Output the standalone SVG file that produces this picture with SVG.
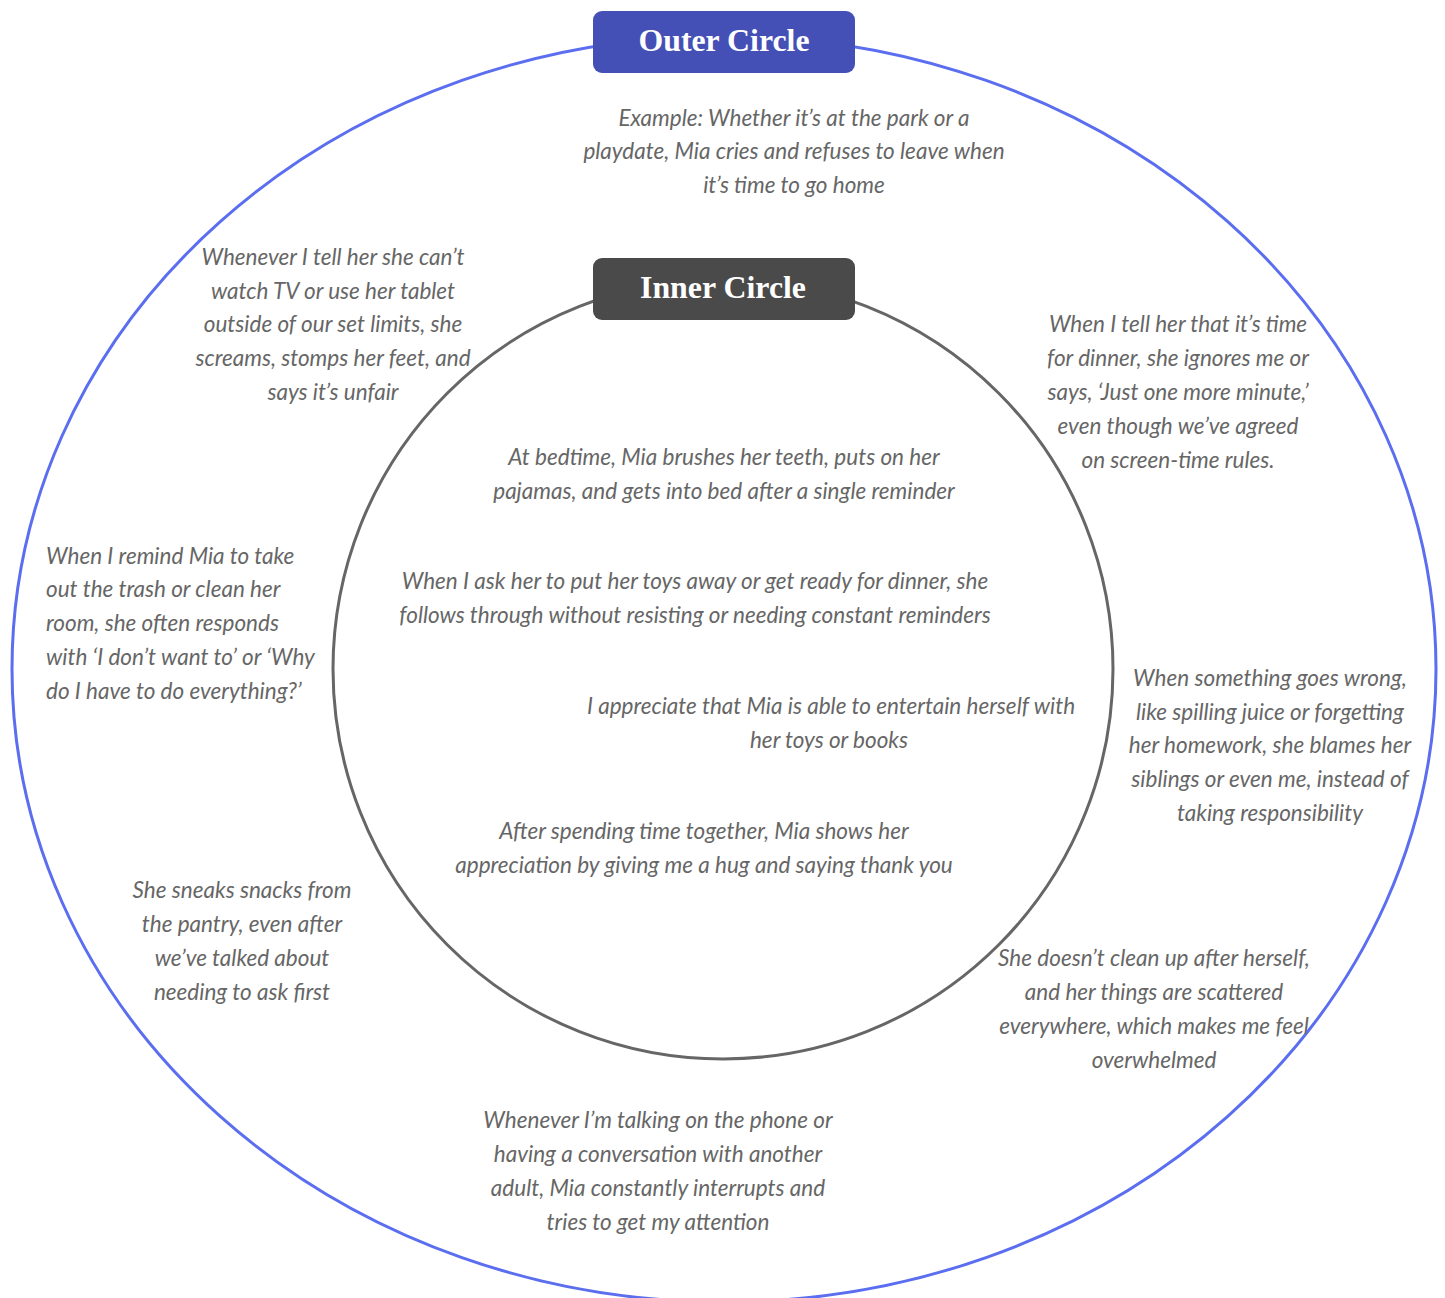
<svg xmlns="http://www.w3.org/2000/svg" width="1445" height="1298" viewBox="0 0 1445 1298">
<style>
.note{font-family:Lato,"Noto Sans","Liberation Sans",sans-serif;font-style:italic;font-size:22.5px;fill:#666666;text-anchor:middle}
.left{text-anchor:start}
.title{font-family:"Liberation Serif","DejaVu Serif",serif;font-weight:bold;font-size:32px;fill:#ffffff;text-anchor:middle}
</style>
<rect width="1445" height="1298" fill="#ffffff"/>
<g id="outer-circle">
<ellipse cx="724" cy="669" rx="712" ry="633" fill="none" stroke="#5b6ef0" stroke-width="3"/>
</g>
<g id="inner-circle">
<circle cx="723" cy="669" r="390" fill="none" stroke="#666666" stroke-width="3"/>
</g>
<g id="connectors"></g>
<g id="outer-label">
<rect x="593" y="11" width="262" height="62" rx="9" fill="#4450b5"/>
<text class="title" x="724" y="51" textLength="171" lengthAdjust="spacingAndGlyphs">Outer Circle</text>
</g>
<g id="inner-label">
<rect x="593" y="258" width="262" height="62" rx="9" fill="#4a4a4a"/>
<text class="title" x="723" y="298" textLength="166" lengthAdjust="spacingAndGlyphs">Inner Circle</text>
</g>
<g id="note-outer-example">
<text class="note" x="794" y="126">Example: Whether it’s at the park or a</text>
<text class="note" x="794" y="159">playdate, Mia cries and refuses to leave when</text>
<text class="note" x="794" y="193">it’s time to go home</text>
</g>
<g id="note-tv">
<text class="note" x="333" y="265">Whenever I tell her she can’t</text>
<text class="note" x="333" y="299">watch TV or use her tablet</text>
<text class="note" x="333" y="332">outside of our set limits, she</text>
<text class="note" x="333" y="366">screams, stomps her feet, and</text>
<text class="note" x="333" y="400">says it’s unfair</text>
</g>
<g id="note-dinner">
<text class="note" x="1178" y="332">When I tell her that it’s time</text>
<text class="note" x="1178" y="366">for dinner, she ignores me or</text>
<text class="note" x="1178" y="400">says, ‘Just one more minute,’</text>
<text class="note" x="1178" y="434">even though we’ve agreed</text>
<text class="note" x="1178" y="468">on screen-time rules.</text>
</g>
<g id="note-bedtime">
<text class="note" x="724" y="465">At bedtime, Mia brushes her teeth, puts on her</text>
<text class="note" x="724" y="499">pajamas, and gets into bed after a single reminder</text>
</g>
<g id="note-toys">
<text class="note" x="695" y="589">When I ask her to put her toys away or get ready for dinner, she</text>
<text class="note" x="695" y="623">follows through without resisting or needing constant reminders</text>
</g>
<g id="note-entertain">
<text class="note" x="831" y="714">I appreciate that Mia is able to entertain herself with</text>
<text class="note" x="829" y="748">her toys or books</text>
</g>
<g id="note-hug">
<text class="note" x="704" y="839">After spending time together, Mia shows her</text>
<text class="note" x="704" y="873">appreciation by giving me a hug and saying thank you</text>
</g>
<g id="note-trash">
<text class="note left" x="46" y="564">When I remind Mia to take</text>
<text class="note left" x="46" y="597">out the trash or clean her</text>
<text class="note left" x="46" y="631">room, she often responds</text>
<text class="note left" x="46" y="665">with ‘I don’t want to’ or ‘Why</text>
<text class="note left" x="46" y="699">do I have to do everything?’</text>
</g>
<g id="note-blame">
<text class="note" x="1270" y="686">When something goes wrong,</text>
<text class="note" x="1270" y="720">like spilling juice or forgetting</text>
<text class="note" x="1270" y="753">her homework, she blames her</text>
<text class="note" x="1270" y="787">siblings or even me, instead of</text>
<text class="note" x="1270" y="821">taking responsibility</text>
</g>
<g id="note-snacks">
<text class="note" x="242" y="898">She sneaks snacks from</text>
<text class="note" x="242" y="932">the pantry, even after</text>
<text class="note" x="242" y="966">we’ve talked about</text>
<text class="note" x="242" y="1000">needing to ask first</text>
</g>
<g id="note-mess">
<text class="note" x="1154" y="966">She doesn’t clean up after herself,</text>
<text class="note" x="1154" y="1000">and her things are scattered</text>
<text class="note" x="1154" y="1034">everywhere, which makes me feel</text>
<text class="note" x="1154" y="1068">overwhelmed</text>
</g>
<g id="note-interrupt">
<text class="note" x="658" y="1128">Whenever I’m talking on the phone or</text>
<text class="note" x="658" y="1162">having a conversation with another</text>
<text class="note" x="658" y="1196">adult, Mia constantly interrupts and</text>
<text class="note" x="658" y="1230">tries to get my attention</text>
</g>
</svg>
